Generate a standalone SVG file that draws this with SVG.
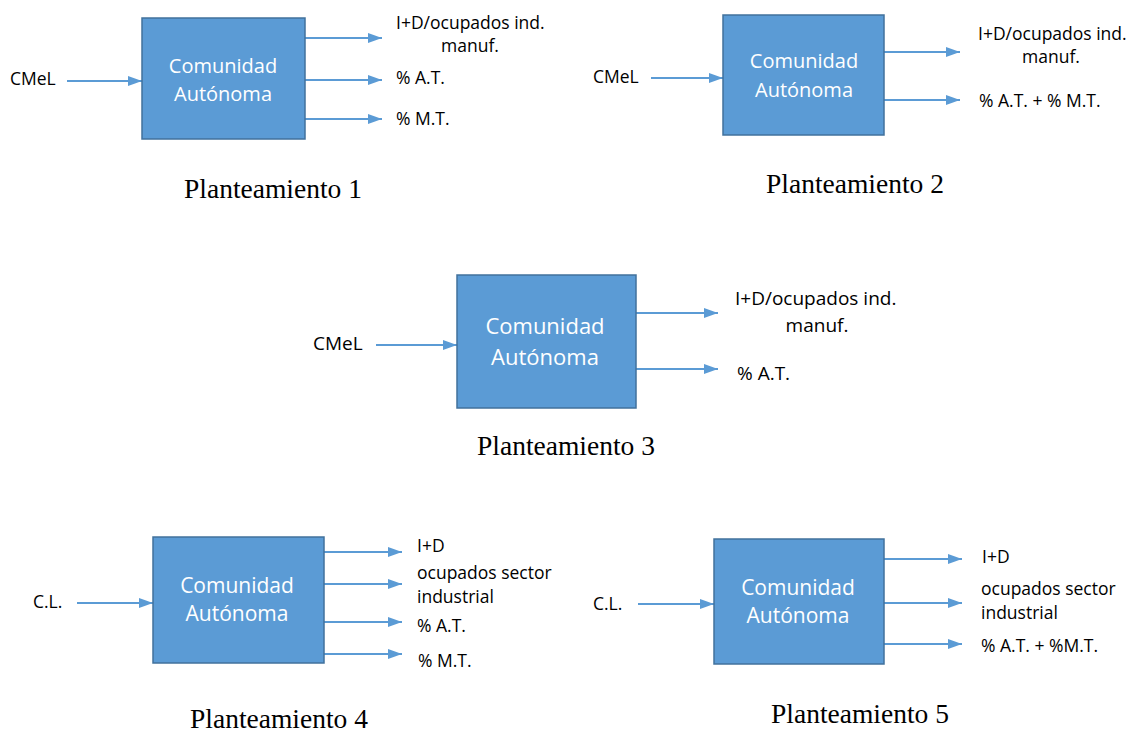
<svg xmlns="http://www.w3.org/2000/svg" width="1129" height="735" viewBox="0 0 1129 735">
<defs>
<marker id="ah" markerWidth="14" markerHeight="10" refX="14" refY="5" orient="auto" markerUnits="userSpaceOnUse">
<path d="M0,0 L14,5 L0,10 Z" fill="#5B9BD5"/>
</marker>
<style>
.box{fill:#5B9BD5;stroke:#41719C;stroke-width:1.5}
.bt{font-family:"Open Sans","Noto Sans",sans-serif;font-size:20px;fill:#fff;text-anchor:middle}
.lb{font-family:"Open Sans","Noto Sans",sans-serif;font-size:17.5px;fill:#000}
.ttl{font-family:"Liberation Serif",serif;font-size:27.5px;fill:#000;text-anchor:middle}
.c line{stroke:#5B9BD5;stroke-width:2.2;marker-end:url(#ah)}
</style>
</defs>
<rect width="1129" height="735" fill="#fff"/>
<g class="c" id="connectors">
<line x1="67" y1="81" x2="142" y2="81"/>
<line x1="305" y1="38" x2="382" y2="38"/>
<line x1="305" y1="80" x2="382" y2="80"/>
<line x1="305" y1="119" x2="382" y2="119"/>
<line x1="651" y1="78" x2="723" y2="78"/>
<line x1="884" y1="52" x2="960" y2="52"/>
<line x1="884" y1="100" x2="960" y2="100"/>
<line x1="376" y1="345" x2="457" y2="345"/>
<line x1="636" y1="313" x2="718" y2="313"/>
<line x1="636" y1="369" x2="718" y2="369"/>
<line x1="77" y1="603" x2="153" y2="603"/>
<line x1="324" y1="552" x2="402" y2="552"/>
<line x1="324" y1="584" x2="402" y2="584"/>
<line x1="324" y1="622" x2="402" y2="622"/>
<line x1="324" y1="654" x2="402" y2="654"/>
<line x1="638" y1="604" x2="714" y2="604"/>
<line x1="884" y1="559" x2="962" y2="559"/>
<line x1="884" y1="603" x2="962" y2="603"/>
<line x1="884" y1="644" x2="962" y2="644"/>
</g>
<g id="p1">
<rect class="box" x="142" y="18" width="163" height="121"/>
<text class="bt" x="223" y="73">Comunidad</text>
<text class="bt" x="223" y="101">Autónoma</text>
<text class="lb" x="10" y="85">CMeL</text>
<text class="lb" x="396" y="29">I+D/ocupados ind.</text>
<text class="lb" x="470" y="52" text-anchor="middle">manuf.</text>
<text class="lb" x="396" y="84">% A.T.</text>
<text class="lb" x="396" y="125">% M.T.</text>
<text class="ttl" x="273" y="198">Planteamiento 1</text>
</g>
<g id="p2">
<rect class="box" x="723" y="15" width="161" height="120"/>
<text class="bt" x="804" y="68">Comunidad</text>
<text class="bt" x="804" y="97">Autónoma</text>
<text class="lb" x="593" y="83">CMeL</text>
<text class="lb" x="978" y="40">I+D/ocupados ind.</text>
<text class="lb" x="1051" y="63" text-anchor="middle">manuf.</text>
<text class="lb" x="979" y="107">% A.T. + % M.T.</text>
<text class="ttl" x="855" y="193">Planteamiento 2</text>
</g>
<g id="p3">
<rect class="box" x="457" y="275" width="179" height="133"/>
<text class="bt" x="545" y="334" style="font-size:22px">Comunidad</text>
<text class="bt" x="545" y="365" style="font-size:22px">Autónoma</text>
<text class="lb" x="313" y="350" style="font-size:19px">CMeL</text>
<text class="lb" x="735" y="305" style="font-size:19px">I+D/ocupados ind.</text>
<text class="lb" x="817" y="332" style="font-size:19px" text-anchor="middle">manuf.</text>
<text class="lb" x="737" y="380" style="font-size:19px">% A.T.</text>
<text class="ttl" x="566" y="455">Planteamiento 3</text>
</g>
<g id="p4">
<rect class="box" x="153" y="537" width="171" height="126"/>
<text class="bt" x="237" y="593" style="font-size:21px">Comunidad</text>
<text class="bt" x="237" y="621" style="font-size:21px">Autónoma</text>
<text class="lb" x="33" y="608">C.L.</text>
<text class="lb" x="417" y="552">I+D</text>
<text class="lb" x="417" y="579">ocupados sector</text>
<text class="lb" x="417" y="603">industrial</text>
<text class="lb" x="417" y="632">% A.T.</text>
<text class="lb" x="418" y="667">% M.T.</text>
<text class="ttl" x="279" y="728">Planteamiento 4</text>
</g>
<g id="p5">
<rect class="box" x="714" y="539" width="170" height="125"/>
<text class="bt" x="798" y="595" style="font-size:21px">Comunidad</text>
<text class="bt" x="798" y="623" style="font-size:21px">Autónoma</text>
<text class="lb" x="593" y="610">C.L.</text>
<text class="lb" x="982" y="563">I+D</text>
<text class="lb" x="981" y="595">ocupados sector</text>
<text class="lb" x="981" y="619">industrial</text>
<text class="lb" x="981" y="652">% A.T. + %M.T.</text>
<text class="ttl" x="860" y="723">Planteamiento 5</text>
</g>
</svg>
